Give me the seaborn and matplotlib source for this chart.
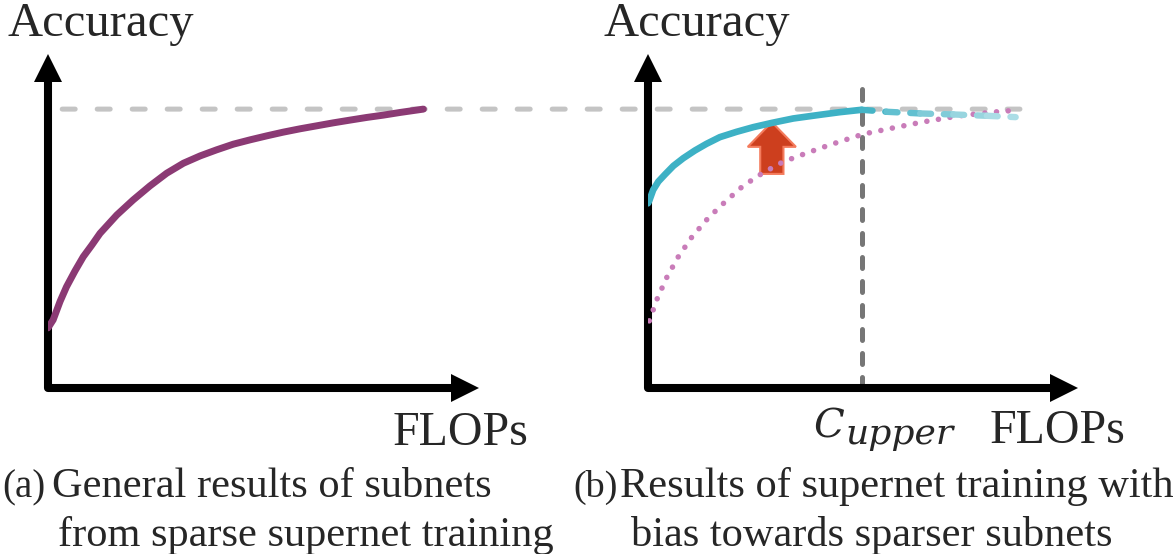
import matplotlib
matplotlib.use("Agg")
import matplotlib.pyplot as plt
import seaborn as sns
from matplotlib.patches import ConnectionPatch
from matplotlib.transforms import offset_copy

# Canvas size in pixels (figure is saved at dpi=100)
W, H = 1173, 554

# Panel (a): accuracy vs FLOPs for subnets of a sparse supernet
flops_a = [0.0, 0.012, 0.028, 0.043, 0.063, 0.082, 0.102, 0.121, 0.160, 0.198, 0.237,
           0.276, 0.315, 0.354, 0.392, 0.431, 0.470, 0.509, 0.547, 0.586, 0.625,
           0.664, 0.702, 0.741, 0.780, 0.819, 0.873]
acc_a = [0.18, 0.204, 0.259, 0.303, 0.351, 0.393, 0.428, 0.463, 0.518, 0.563, 0.605,
         0.643, 0.673, 0.695, 0.713, 0.730, 0.743, 0.755, 0.766, 0.776, 0.785,
         0.794, 0.802, 0.810, 0.817, 0.825, 0.835]

# Panel (b): biased training (solid up to C_upper, faded dashed beyond)
flops_b_new = [0.0, 0.003, 0.012, 0.024, 0.040, 0.059, 0.082, 0.109, 0.136, 0.167,
               0.206, 0.245, 0.289, 0.338, 0.400, 0.447, 0.497]
acc_b_new = [0.553, 0.561, 0.593, 0.618, 0.640, 0.665, 0.688, 0.711, 0.731, 0.751,
             0.767, 0.781, 0.794, 0.807, 0.818, 0.826, 0.833]
flops_b_tail = [0.497, 0.555, 0.633, 0.710, 0.788, 0.855]
acc_b_tail = [0.833, 0.827, 0.822, 0.819, 0.815, 0.811]

# Panel (b): original curve (dotted)
flops_b_old = [0.003, 0.021, 0.044, 0.070, 0.102, 0.140, 0.179, 0.221, 0.267, 0.314,
               0.370, 0.423, 0.500, 0.556, 0.637, 0.719, 0.802, 0.860]
acc_b_old = [0.201, 0.266, 0.332, 0.392, 0.452, 0.509, 0.557, 0.605, 0.644, 0.677,
             0.704, 0.728, 0.760, 0.775, 0.796, 0.814, 0.826, 0.832]

acc_ceiling = 0.835
ceiling_from_a = 0.033
ceiling_to_b = 0.865
c_upper = 0.497

# Improvement arrow in panel (b): base, length
arrow_x, arrow_y0, arrow_len = 0.288, 0.641, 0.155

captions_a = ["(a)", "General results of subnets", "from sparse supernet training"]
captions_b = ["(b)", "Results of supernet training with", "bias towards sparser subnets"]

purple = "#8b3a74"
teal = "#3db1c5"
tail_colors = ["#45b4c6", "#62c0d0", "#80cbd8", "#98d5df", "#abdde6"]
pink = "#c97cb9"
light_gray = "#c4c4c4"
dark_gray = "#767676"

sns.set_style("white")
plt.rcParams["font.family"] = ["Liberation Serif", "DejaVu Serif"]

fig = plt.figure(figsize=(W / 100, H / 100), dpi=100)


def px_box(x0, y0, x1, y1):
    # pixel box (top-left origin) -> figure fraction rect
    return [x0 / W, 1 - y1 / H, (x1 - x0) / W, (y1 - y0) / H]


ax_a = fig.add_axes(px_box(48, 54, 478, 388))
ax_b = fig.add_axes(px_box(648, 54, 1078, 388))

for ax in (ax_a, ax_b):
    ax.set_xlim(0, 1)
    ax.set_ylim(0, 1)
    ax.axis("off")
    # L-shaped axes with triangular heads
    ax.plot([0, 0, 0.95], [0.95, 0, 0], transform=ax.transAxes, color="black",
            lw=5.8, solid_joinstyle="round", solid_capstyle="butt", clip_on=False)
    up = offset_copy(ax.transAxes, fig=fig, y=-13.5, units="dots")
    ax.plot([0], [1], marker="^", ms=19.5, mew=0, color="black",
            transform=up, clip_on=False)
    right = offset_copy(ax.transAxes, fig=fig, x=-13.5, units="dots")
    ax.plot([1], [0], marker=">", ms=19.5, mew=0, color="black",
            transform=right, clip_on=False)

# Upper accuracy bound shared by both panels
ceiling = ConnectionPatch(xyA=(ceiling_from_a, acc_ceiling), coordsA=ax_a.transData,
                          xyB=(ceiling_to_b, acc_ceiling), coordsB=ax_b.transData,
                          color=light_gray, lw=3.6, linestyle=(0, (2.6, 4.4)),
                          capstyle="round", zorder=-1)
fig.add_artist(ceiling)

# Panel (a)
sns.lineplot(x=flops_a, y=acc_a, ax=ax_a, color=purple, lw=5, sort=False,
             solid_capstyle="round", solid_joinstyle="round", zorder=3)

# Panel (b)
ax_b.plot([c_upper, c_upper], [0, 0.91], color=dark_gray, lw=3.6,
          ls=(0, (2.2, 2.6)), dash_capstyle="round", zorder=1, clip_on=False)
ax_b.arrow(arrow_x, arrow_y0, 0, arrow_len, width=0.054, head_width=0.112,
           head_length=0.074, length_includes_head=True,
           fc="#cd3f1e", ec="#f47b5c", lw=1.5, zorder=2)
sns.lineplot(x=flops_b_old, y=acc_b_old, ax=ax_b, color=pink, lw=4.0, sort=False,
             ls=(0, (0.01, 2.1)), dash_capstyle="round", zorder=3)
sns.lineplot(x=flops_b_new, y=acc_b_new, ax=ax_b, color=teal, lw=4.8, sort=False,
             solid_capstyle="round", solid_joinstyle="round", zorder=4)
for i, c in enumerate(tail_colors):
    ax_b.plot(flops_b_tail[i:i + 2], acc_b_tail[i:i + 2], color=c, lw=4.6,
              ls=(0, (1.7, 2.0)), dash_capstyle="round", zorder=4, clip_on=False)

# Axis labels
fig.text(8 / W, 1 - 36 / H, "Accuracy", fontsize=35, va="baseline")
fig.text(603 / W, 1 - 36 / H, "Accuracy", fontsize=35, va="baseline")
fig.text(393 / W, 1 - 445 / H, "FLOPs", fontsize=34.5, va="baseline")
fig.text(990 / W, 1 - 443 / H, "FLOPs", fontsize=34.5, va="baseline")
fig.text(813 / W, 1 - 437 / H, "C", fontsize=29, style="italic",
         family="DejaVu Serif", va="baseline")
fig.text(846 / W, 1 - 444 / H, "upper", fontsize=26, style="italic",
         family="DejaVu Serif", va="baseline")

# Captions
fig.text(2 / W, 1 - 497 / H, captions_a[0], fontsize=28, va="baseline")
fig.text(52 / W, 1 - 497 / H, captions_a[1], fontsize=30.5, va="baseline")
fig.text(58 / W, 1 - 546 / H, captions_a[2], fontsize=30.5, va="baseline")
fig.text(573 / W, 1 - 497 / H, captions_b[0], fontsize=27.5, va="baseline")
fig.text(620 / W, 1 - 497 / H, captions_b[1], fontsize=30.5, va="baseline")
fig.text(631 / W, 1 - 546 / H, captions_b[2], fontsize=30.5, va="baseline")

fig.savefig("out.png", dpi=100)
